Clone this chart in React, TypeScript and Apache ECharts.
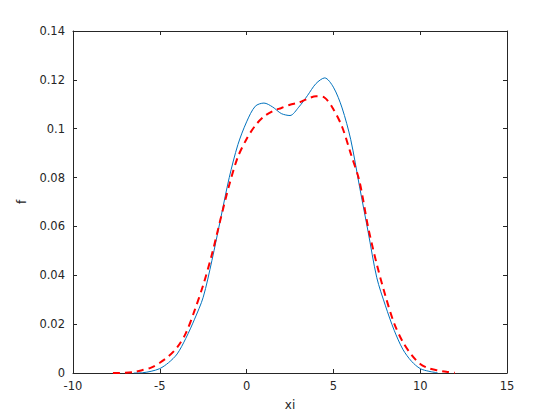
import React, { useEffect, useRef } from "react";
import * as echarts from "echarts";

const xBlue = [-6.5, -6, -5.5, -5, -4.5, -4, -3.5, -3, -2.5, -2, -1.5, -1, -0.5, 0, 0.5, 1, 1.5, 2, 2.5, 3, 3.5, 4, 4.5, 5, 5.5, 6, 6.5, 7, 7.5, 8, 8.5, 9, 9.5, 10, 10.5, 11];
const yBlue = [0, 0.0001, 0.0007, 0.0018, 0.0042, 0.0078, 0.0142, 0.022, 0.031, 0.046, 0.063, 0.08, 0.0935, 0.1028, 0.1092, 0.1105, 0.1089, 0.1062, 0.1054, 0.1088, 0.1135, 0.1185, 0.1208, 0.117, 0.1085, 0.0955, 0.0765, 0.0578, 0.039, 0.0275, 0.0175, 0.0097, 0.0048, 0.0018, 0.0007, 0.0001];

const xRed = [-7.7, -7, -6.5, -6, -5.5, -5, -4.5, -4, -3.5, -3, -2.5, -2, -1.5, -1, -0.5, 0, 0.5, 1, 1.5, 2, 2.5, 3, 3.5, 4, 4.5, 5, 5.5, 6, 6.5, 7, 7.5, 8, 8.5, 9, 9.5, 10, 10.5, 11, 11.5, 12];
const yRed = [0, 0.0001, 0.0004, 0.0012, 0.0022, 0.0042, 0.0068, 0.0105, 0.0163, 0.0255, 0.036, 0.0485, 0.063, 0.077, 0.0885, 0.0958, 0.1013, 0.105, 0.1072, 0.1085, 0.1098, 0.1107, 0.1122, 0.1133, 0.1127, 0.108, 0.1008, 0.0898, 0.0785, 0.0597, 0.0445, 0.0315, 0.0203, 0.0127, 0.0074, 0.0037, 0.0019, 0.0011, 0.0005, 0.0001];

const xLabel = "xi";
const yLabel = "f";

const axisColor = "#262626";
const font = "DejaVu Sans";

export default function App() {
  const ref = useRef<HTMLDivElement>(null);
  useEffect(() => {
    if (!ref.current) return;
    const chart = echarts.init(ref.current, undefined, { renderer: "svg" });
    const baseAxis = {
      axisLine: { show: true, onZero: false, lineStyle: { color: axisColor, width: 1 } },
      axisTick: { show: true, inside: true, length: 4, lineStyle: { color: axisColor } },
      splitLine: { show: false },
    };
    chart.setOption({
      animation: false,
      backgroundColor: "#ffffff",
      grid: { left: 73, top: 31, width: 434, height: 342, containLabel: false },
      xAxis: [
        {
          ...baseAxis,
          type: "value",
          min: -10,
          max: 15,
          interval: 5,
          position: "bottom",
          name: xLabel,
          nameLocation: "middle",
          nameGap: 26,
          nameTextStyle: { color: axisColor, fontSize: 12, fontFamily: font },
          axisLabel: { color: axisColor, fontSize: 11.5, fontFamily: font, margin: 7 },
        },
        {
          ...baseAxis,
          type: "value",
          min: -10,
          max: 15,
          interval: 5,
          position: "top",
          axisLabel: { show: false },
        },
      ],
      yAxis: [
        {
          ...baseAxis,
          type: "value",
          min: 0,
          max: 0.14,
          interval: 0.02,
          position: "left",
          name: yLabel,
          nameLocation: "middle",
          nameGap: 44,
          nameTextStyle: { color: axisColor, fontSize: 12, fontFamily: font },
          axisLabel: { color: axisColor, fontSize: 11.5, fontFamily: font, margin: 8 },
        },
        {
          ...baseAxis,
          type: "value",
          min: 0,
          max: 0.14,
          interval: 0.02,
          position: "right",
          axisLabel: { show: false },
        },
      ],
      series: [
        {
          type: "line",
          data: xBlue.map((x, i) => [x, yBlue[i]]),
          showSymbol: false,
          smooth: 0.3,
          lineStyle: { color: "#0072BD", width: 1 },
          xAxisIndex: 0,
          yAxisIndex: 0,
        },
        {
          type: "line",
          data: xRed.map((x, i) => [x, yRed[i]]),
          showSymbol: false,
          smooth: 0.3,
          lineStyle: { color: "#FF0000", width: 2, type: [7, 5] },
          xAxisIndex: 0,
          yAxisIndex: 0,
        },
      ],
    });
    return () => chart.dispose();
  }, []);
  return <div ref={ref} style={{ width: 560, height: 420, position: "absolute", left: 0, top: 0 }} />;
}
